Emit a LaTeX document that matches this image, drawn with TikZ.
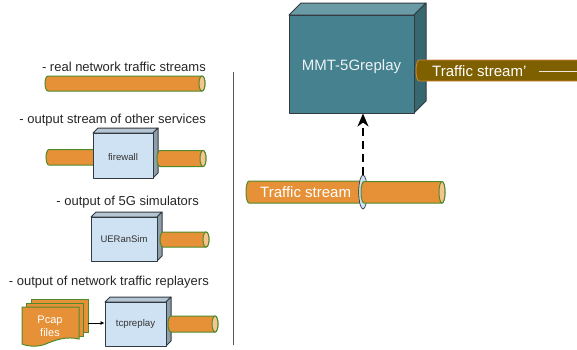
\documentclass[tikz,border=0pt]{standalone}
\usepackage{fontspec}
\usetikzlibrary{shapes.geometric,arrows.meta}
\setmainfont{Liberation Sans}
\definecolor{pipeor}{HTML}{E69138}
\definecolor{pipeend}{HTML}{F6C48E}
\definecolor{pipegr}{HTML}{4F8A2A}
\definecolor{cubeb}{HTML}{CFE2F3}
\definecolor{cubebt}{HTML}{B5C5D4}
\definecolor{cubebr}{HTML}{8E9DAA}
\definecolor{cubet}{HTML}{45818E}
\definecolor{cubett}{HTML}{6A9AA5}
\definecolor{cubetr}{HTML}{37676F}
\definecolor{edgeg}{HTML}{333B40}
\definecolor{brownp}{HTML}{7F6000}
\definecolor{ringb}{HTML}{CFE2F3}
\tikzset{
  caption/.style={anchor=east,inner sep=0pt,yshift=-1.5pt,font=\fontsize{13}{15}\selectfont,text=black!85},
  pipebody/.style={draw=pipegr,fill=pipeor,line width=1pt},
  pipeendcap/.style={draw=pipegr,fill=pipeend,line width=1pt},
  cubeface/.style={draw=edgeg,line width=1pt,line join=round},
  cubefront/.style={cubeface,inner sep=0pt,align=center,text=black!80},
  pagesheet/.style={draw=pipegr,fill=pipeor,line width=1pt},
  labelwhite/.style={text=white,inner sep=0pt,anchor=west},
}
% \pipeseg{x1}{x2}{y1}{y2}
\newcommand{\pipeseg}[4]{%
  \draw[pipebody] (#1+3,#3) -- (#2-3,#3) arc[start angle=90,end angle=-90,x radius=3pt,y radius={(#4-#3)/2*1pt}]
     -- (#1+3,#4) arc[start angle=-90,end angle=-270,x radius=3pt,y radius={(#4-#3)/2*1pt}] -- cycle;
  \draw[pipeendcap] (#2-3,{(#3+#4)/2}) ellipse[x radius=3pt,y radius={(#4-#3)/2*1pt}];
}
% \cubebox{name}{x1}{y1}{x2}{y2}{depth}{front}{top}{right}
\newcommand{\cubebox}[9]{%
  \draw[cubeface,fill=#8] (#2,#3) -- (#2+#6,#3-#6) -- (#4+#6,#3-#6) -- (#4,#3) -- cycle;
  \draw[cubeface,fill=#9] (#4,#3) -- (#4+#6,#3-#6) -- (#4+#6,#5-#6) -- (#4,#5) -- cycle;
  \node[cubefront,fill=#7,draw,rectangle,minimum width={(#4-#2)*1pt},minimum height={(#5-#3)*1pt}] (#1) at ({(#2+#4)/2},{(#3+#5)/2}) {\cubelabel};
}
\newcommand{\cubelabel}{}
\begin{document}
\begin{tikzpicture}[x=1pt,y=-1pt]
\useasboundingbox (0,0) rectangle (577,349);
% captions
\node[caption] (c1) at (206,65) {- real network traffic streams};
\node[caption] (c2) at (206,119) {- output stream of other services};
\node[caption] (c3) at (199,201) {- output of 5G simulators};
\node[caption] (c4) at (209,281) {- output of network traffic replayers};
% divider
\coordinate (dtop) at (233,72);
\coordinate (dbot) at (233,345);
\draw[draw=black!65,line width=0.9pt] (dtop) -- (dbot);
% stream 1
\pipeseg{45}{205}{76}{91}
% firewall
\pipeseg{46}{100}{149.5}{165}
\renewcommand{\cubelabel}{\fontsize{9.6}{11}\selectfont\rule{0pt}{10pt}firewall}
\cubebox{fw}{93}{133}{153}{178}{5}{cubeb}{cubebt}{cubebr}
\pipeseg{157}{206}{150.5}{166.5}
% UERanSim
\renewcommand{\cubelabel}{\fontsize{9.5}{11}\selectfont UERanSim}
\cubebox{ue}{91}{217}{157}{261}{5}{cubeb}{cubebt}{cubebr}
\pipeseg{160}{209}{232}{247}
% pcap pages
\draw[pagesheet] (31,299) rectangle (88,332);
\draw[pagesheet] (26.5,303) rectangle (83.5,336);
\draw[pagesheet] (22,307) -- (79,307) -- (79,339) .. controls (66,336) and (56,340) .. (48,343) .. controls (40,347) and (30,347) .. (22,344) -- cycle;
\node[text=white,inner sep=0pt,align=center,font=\fontsize{11}{12.5}\selectfont] (pcap) at (50,326.5) {Pcap\\files};
\coordinate (pcapr) at (88,323);
% tcpreplay
\renewcommand{\cubelabel}{\fontsize{9.7}{11}\selectfont tcpreplay}
\cubebox{tcp}{105}{302}{166}{346}{5}{cubeb}{cubebt}{cubebr}
\pipeseg{168}{218}{316}{332}
\draw[-{Latex[length=4pt,width=4pt]},line width=0.6pt,black] (pcapr) -- (pcapr -| tcp.west);
% MMT
\renewcommand{\cubelabel}{\textcolor{white!90!cubet}{\fontsize{15}{18}\selectfont\rule{0pt}{16pt}MMT-5Greplay}}
\cubebox{mmt}{289}{15}{414}{113}{12}{cubet}{cubett}{cubetr}
% Traffic stream'
\draw[draw=pipeor!90!black,fill=brownp,line width=0.9pt] (590,60) -- (419,60) arc[start angle=90,end angle=270,x radius=3pt,y radius=10.5pt] -- (590,81);
\node[labelwhite,font=\fontsize{15}{18}\selectfont] (tsp) at (432,71.5) {Traffic stream'};
\coordinate (tspend) at (577,71);
\draw[white!85!brownp,line width=0.8pt] (539,71) -- (tspend);
% Traffic stream
\pipeseg{246}{365}{181}{203}
\node[labelwhite,font=\fontsize{15}{18}\selectfont] (ts) at (260,192) {Traffic stream};
\node[draw=edgeg,fill=ringb,line width=0.7pt,ellipse,minimum width=8.5pt,minimum height=34pt,inner sep=0pt] (ring) at (363,192) {};
\pipeseg{361}{445}{181.5}{203}
\draw[dash pattern=on 8pt off 5pt,line width=2.2pt,-{Stealth[length=13pt,width=11pt,inset=4pt]}] (ring.north) -- (mmt.south -| ring.north);
\end{tikzpicture}
\end{document}
